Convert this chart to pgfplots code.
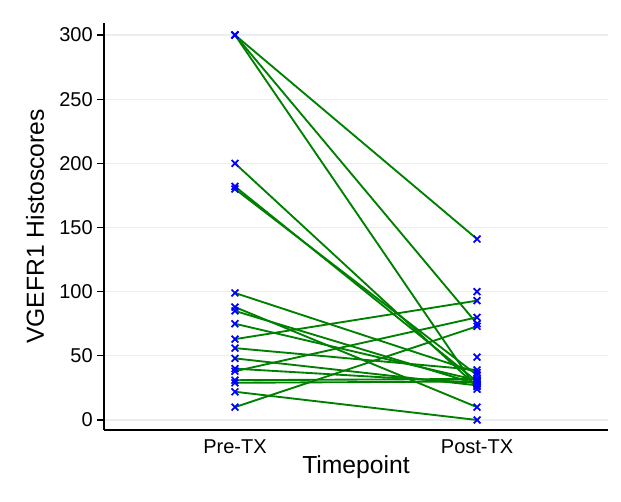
\documentclass[border=0pt]{standalone}
\usepackage{fontspec}
\setmainfont{Liberation Sans}
\usepackage{pgfplots}
\pgfplotsset{compat=1.18}
\definecolor{pairline}{RGB}{0,128,0}
\definecolor{markblue}{RGB}{0,0,255}
\definecolor{gridgray}{RGB}{232,238,242}
\begin{document}
\begin{tikzpicture}
% picture frame: 1px of the reference = 0.75pt
\path[use as bounding box] (-78pt,-53.25pt) rectangle (387.75pt,322.5pt);
\begin{axis}[
  scale only axis,
  width=378pt, height=305.25pt,
  xmin=-0.541, xmax=1.541,
  ymin=-7.8, ymax=309.35,
  axis x line*=bottom, axis y line*=left,
  axis line style={black, line width=1.1pt, -},
  xtick={0,1}, xticklabels={Pre-TX,Post-TX},
  xtick style={draw=none},
  ytick={0,50,100,150,200,250,300},
  ytick style={black, line width=0.8pt},
  tick align=outside, major tick length=5.25pt,
  ymajorgrids=true,
  grid style={gridgray, line width=0.8pt},
  /pgf/number format/assume math mode=true,
  tick label style={font=\fontsize{15}{18}\selectfont},
  xticklabel style={anchor=base, yshift=-12.5pt},
  yticklabel style={inner sep=0pt, xshift=-3pt},
  label style={font=\fontsize{18.5}{22}\selectfont},
  xlabel={Timepoint},
  xlabel style={at={(axis description cs:0.5,-0.108)}, anchor=base},
  ylabel={VGEFR1 Histoscores},
  ylabel style={at={(axis description cs:-0.137,0.5)}, anchor=center},
  clip=false,
]
% paired samples, pre -> post
\foreach \a/\b in {300/141,300/75,300/24,200/26,182/30,180/35,99/37,
  88/10,85/28,75/31,63/93,56/39,48/27,40/29,38/80,31/32,29/30,22/0,10/73}{
  \edef\tmp{\noexpand\addplot[pairline, line width=1.4pt, no markers, forget plot]
    coordinates {(0,\a)(1,\b)};}
  \tmp
}
% all measured points
\addplot[only marks, mark=x, mark size=3.6pt, markblue, line width=1.3pt]
  coordinates {
  (0,300)(0,300)(0,300)(0,200)(0,182)(0,180)(0,99)(0,88)(0,85)(0,75)
  (0,63)(0,56)(0,48)(0,40)(0,38)(0,31)(0,29)(0,22)(0,10)
  (1,141)(1,100)(1,93)(1,80)(1,75)(1,73)(1,49)(1,39)(1,37)(1,35)
  (1,32)(1,31)(1,30)(1,30)(1,29)(1,28)(1,27)(1,26)(1,24)(1,10)(1,0)
};
\end{axis}
\end{tikzpicture}
\end{document}
